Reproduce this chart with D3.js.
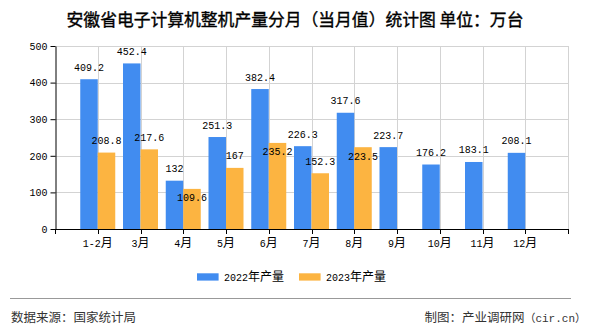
<!DOCTYPE html>
<html>
<head>
<meta charset="utf-8">
<script src="https://cdn.jsdelivr.net/npm/d3@7"></script>
<style>
  html, body { margin: 0; padding: 0; background: #fff; }
  svg { display: block; }
</style>
</head>
<body>
<svg id="chart" width="590" height="330"></svg>
<script>
const title = "安徽省电子计算机整机产量分月（当月值）统计图 单位：万台";
const categories = ["1-2月", "3月", "4月", "5月", "6月", "7月", "8月", "9月", "10月", "11月", "12月"];
const values2022 = [409.2, 452.4, 132, 251.3, 382.4, 226.3, 317.6, 223.7, 176.2, 183.1, 208.1];
const values2023 = [208.8, 217.6, 109.6, 167, 235.2, 152.3, 223.5];
const seriesNames = ["2022年产量", "2023年产量"];
const yTicks = [0, 100, 200, 300, 400, 500];
const sourceText = "数据来源：国家统计局";
const creditCN = "制图：产业调研网";
const creditURL = "（cir.cn）";

(function () {
const colors = ["#418CF0", "#FCB441"];
const monoFont = "'Liberation Mono', 'Noto Sans CJK SC', monospace";
const cjkFont = "'Noto Sans CJK SC', sans-serif";

const svg = d3.select("#chart");
const pL = 55, pR = 568, pT = 46, pB = 229;
const barW = 17.5;
const charW = 6, lblH = 10;

const x = d3.scalePoint().domain(categories).range([pL, pR]).padding(1);
const y = d3.scaleLinear().domain([0, 500]).range([pB, pT]);
const step = x.step();
const gridX = d3.range(categories.length + 2).map(i => pL + i * step);

// title
svg.append("text")
  .attr("x", 295).attr("y", 26)
  .attr("text-anchor", "middle")
  .attr("font-family", cjkFont)
  .attr("font-size", 16.8)
  .attr("fill", "#000")
  .attr("stroke", "#000").attr("stroke-width", 0.35)
  .text(title);

// grid
svg.append("g").selectAll("line").data(yTicks.filter(d => d > 0)).join("line")
  .attr("x1", pL).attr("x2", pR)
  .attr("y1", d => Math.round(y(d)) + 0.5).attr("y2", d => Math.round(y(d)) + 0.5)
  .attr("stroke", "#d3d3d3").attr("stroke-width", 1);
svg.append("g").selectAll("line").data(gridX.slice(1)).join("line")
  .attr("x1", d => Math.round(d) + 0.5).attr("x2", d => Math.round(d) + 0.5)
  .attr("y1", pT).attr("y2", pB)
  .attr("stroke", "#d3d3d3").attr("stroke-width", 1);

// bars
const series = [values2022, values2023];
series.forEach((vals, si) => {
  svg.append("g").selectAll("rect").data(vals).join("rect")
    .attr("x", (d, i) => x(categories[i]) - (si === 0 ? barW : 0))
    .attr("y", d => y(d))
    .attr("width", barW)
    .attr("height", d => y(0) - y(d))
    .attr("fill", colors[si]);
});

// value labels: first series above bars; second series above, or just inside
// the bar top when it would collide with an already placed label
const labelGap = 8.5;
const placed = values2022.map((d, i) => {
  const w = String(d).length * charW;
  const cx = x(categories[i]) - barW / 2;
  return { v: d, cx, y: y(d) - labelGap, x0: cx - w / 2, x1: cx + w / 2 };
});
const collides = (a, b) => a.x0 < b.x1 && b.x0 < a.x1 && Math.abs(a.y - b.y) < lblH;
const second = values2023.map((d, i) => {
  const w = String(d).length * charW;
  const cx = x(categories[i]) + barW / 2;
  const lab = { v: d, cx, y: y(d) - labelGap, x0: cx - w / 2, x1: cx + w / 2 };
  if (placed.some(p => collides(p, lab))) lab.y = y(d) + 12.5;
  return lab;
});
const lblG = svg.append("g")
  .attr("font-family", monoFont).attr("font-size", 10).attr("fill", "#000")
  .attr("text-anchor", "middle");
lblG.selectAll("text").data(placed.concat(second)).join("text")
  .attr("x", d => d.cx).attr("y", d => d.y)
  .text(d => d.v);

// y axis
const yAxis = svg.append("g")
  .attr("transform", `translate(${pL + 0.5},0)`)
  .call(d3.axisLeft(y).tickValues(yTicks).tickSize(5).tickSizeOuter(0).tickPadding(3));
yAxis.select(".domain").attr("stroke", "#000");
yAxis.selectAll(".tick line").attr("stroke", "#000");
yAxis.selectAll(".tick text")
  .attr("font-family", monoFont).attr("font-size", 10).attr("fill", "#000");

// x axis
const xg = svg.append("g");
xg.append("line")
  .attr("x1", pL).attr("x2", pR + 1)
  .attr("y1", pB + 0.5).attr("y2", pB + 0.5)
  .attr("stroke", "#000");
xg.append("g").selectAll("line").data(gridX).join("line")
  .attr("x1", d => Math.round(d) + 0.5).attr("x2", d => Math.round(d) + 0.5)
  .attr("y1", pB).attr("y2", pB + 5)
  .attr("stroke", "#000");
const xl = xg.append("g").selectAll("text").data(categories).join("text")
  .attr("x", d => x(d)).attr("y", 247)
  .attr("text-anchor", "middle").attr("fill", "#000");
xl.each(function (d) {
  const t = d3.select(this);
  const m = d.match(/^(.*?)(月)$/);
  t.append("tspan").attr("font-family", monoFont).attr("font-size", 10).text(m[1]);
  t.append("tspan").attr("font-family", cjkFont).attr("font-size", 12).text(m[2]);
});

// legend
const legendX = [197, 299];
seriesNames.forEach((name, i) => {
  const g = svg.append("g");
  g.append("rect").attr("x", legendX[i]).attr("y", 273.3)
    .attr("width", 21.6).attr("height", 7.3).attr("fill", colors[i]);
  const t = g.append("text").attr("x", legendX[i] + 27).attr("y", 281).attr("fill", "#000");
  const m = name.match(/^(\d+)(.*)$/);
  t.append("tspan").attr("font-family", monoFont).attr("font-size", 10).text(m[1]);
  t.append("tspan").attr("font-family", cjkFont).attr("font-size", 12).text(m[2]);
});

// footer
svg.append("line")
  .attr("x1", 10).attr("x2", 571).attr("y1", 298.5).attr("y2", 298.5)
  .attr("stroke", "#999").attr("stroke-width", 1);
svg.append("text")
  .attr("x", 11).attr("y", 322)
  .attr("font-family", cjkFont).attr("font-size", 12.5).attr("fill", "#333")
  .text(sourceText);
const cr = svg.append("text")
  .attr("x", 586).attr("y", 322).attr("text-anchor", "end").attr("fill", "#333");
cr.append("tspan").attr("font-family", cjkFont).attr("font-size", 12.5).text(creditCN);
cr.append("tspan").attr("font-family", monoFont).attr("font-size", 11).text(creditURL);
})();
</script>
</body>
</html>
